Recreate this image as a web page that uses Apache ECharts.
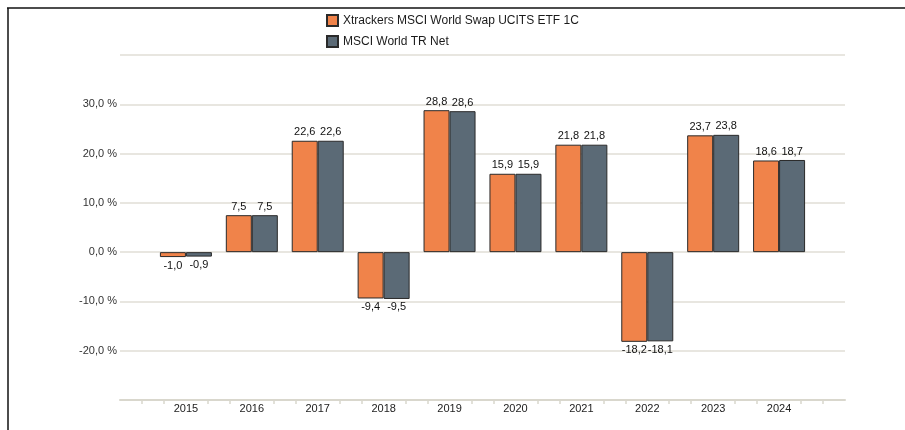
<!DOCTYPE html>
<html>
<head>
<meta charset="utf-8">
<script src="https://cdn.jsdelivr.net/npm/echarts@6/dist/echarts.min.js"></script>
<style>
    html, body {margin: 0; padding: 0; background: #fff;}
    #main {width: 905px; height: 430px;}
</style>
</head>
<body>
<div id="main"></div>
<script>
//数据
var years = [2015, 2016, 2017, 2018, 2019, 2020, 2021, 2022, 2023, 2024];
var etfValues = [-1.0, 7.5, 22.6, -9.4, 28.8, 15.9, 21.8, -18.2, 23.7, 18.6];
var indexValues = [-0.9, 7.5, 22.6, -9.5, 28.6, 15.9, 21.8, -18.1, 23.8, 18.7];
var seriesNames = ['Xtrackers MSCI World Swap UCITS ETF 1C', 'MSCI World TR Net'];
var yTicks = [-20, -10, 0, 10, 20, 30];

function fmt(v) {
    return v.toFixed(1).replace('.', ',');
}

//组装数据
function buildData(values) {
    let data = new Array();
    for (let i = 0; i < years.length; i++) {
        data.push({
            value: [years[i], values[i]],
            label: {position: values[i] < 0 ? 'bottom' : 'top'}
        });
    }
    return data;
}

var echart = echarts.init(document.getElementById('main'));

let option = {
    animation: false,
    textStyle: {fontFamily: 'Liberation Sans, Arial, sans-serif'},
    graphic: [
        {type: 'line', shape: {x1: 7, y1: 8, x2: 905, y2: 8}, style: {stroke: '#111', lineWidth: 1.5}},
        {type: 'line', shape: {x1: 8, y1: 8, x2: 8, y2: 430}, style: {stroke: '#111', lineWidth: 1.5}}
    ],
    legend: {
        data: seriesNames,
        orient: 'vertical',
        left: 321,
        top: 9,
        itemWidth: 11,
        itemHeight: 11,
        itemGap: 8,
        icon: 'rect',
        textStyle: {fontSize: 12, color: '#1a1a1a'}
    },
    grid: {left: 120, right: 60, top: 55, bottom: 30},
    xAxis: [
        {
            type: 'value',
            min: 2014,
            max: 2025,
            interval: 1,
            axisLine: {onZero: false, lineStyle: {color: '#d9d7cd', width: 2}},
            axisTick: {show: false},
            minorTick: {show: true, splitNumber: 3, length: 4, lineStyle: {color: '#d9d7cd', width: 1.5}},
            splitLine: {show: false},
            axisLabel: {
                margin: 3,
                fontSize: 11,
                color: '#222',
                formatter: function (v) {
                    return years.indexOf(v) >= 0 ? String(v) : '';
                }
            }
        }
    ],
    yAxis: [
        {
            type: 'value',
            min: -30,
            max: 40,
            interval: 10,
            axisLine: {show: false},
            axisTick: {show: false},
            splitLine: {lineStyle: {color: '#e0ded6', width: 1.5}},
            axisLabel: {
                margin: 3,
                fontSize: 11,
                color: '#333',
                formatter: function (v) {
                    return yTicks.indexOf(v) >= 0 ? fmt(v) + ' %' : '';
                }
            }
        }
    ],
    series: [
        {
            name: seriesNames[0],
            type: 'bar',
            barWidth: 26,
            barGap: '0%',
            itemStyle: {color: '#f0834a', borderColor: '#2a2a2a', borderWidth: 1},
            label: {
                show: true,
                distance: 3,
                fontSize: 11,
                color: '#111',
                formatter: function (p) {
                    return fmt(p.value[1]);
                }
            },
            data: buildData(etfValues)
        },
        {
            name: seriesNames[1],
            type: 'bar',
            barWidth: 26,
            barGap: '0%',
            itemStyle: {color: '#5b6a76', borderColor: '#2a2a2a', borderWidth: 1},
            label: {
                show: true,
                distance: 3,
                fontSize: 11,
                color: '#111',
                formatter: function (p) {
                    return fmt(p.value[1]);
                }
            },
            data: buildData(indexValues)
        }
    ]
};
echart.setOption(option);
</script>
</body>
</html>
